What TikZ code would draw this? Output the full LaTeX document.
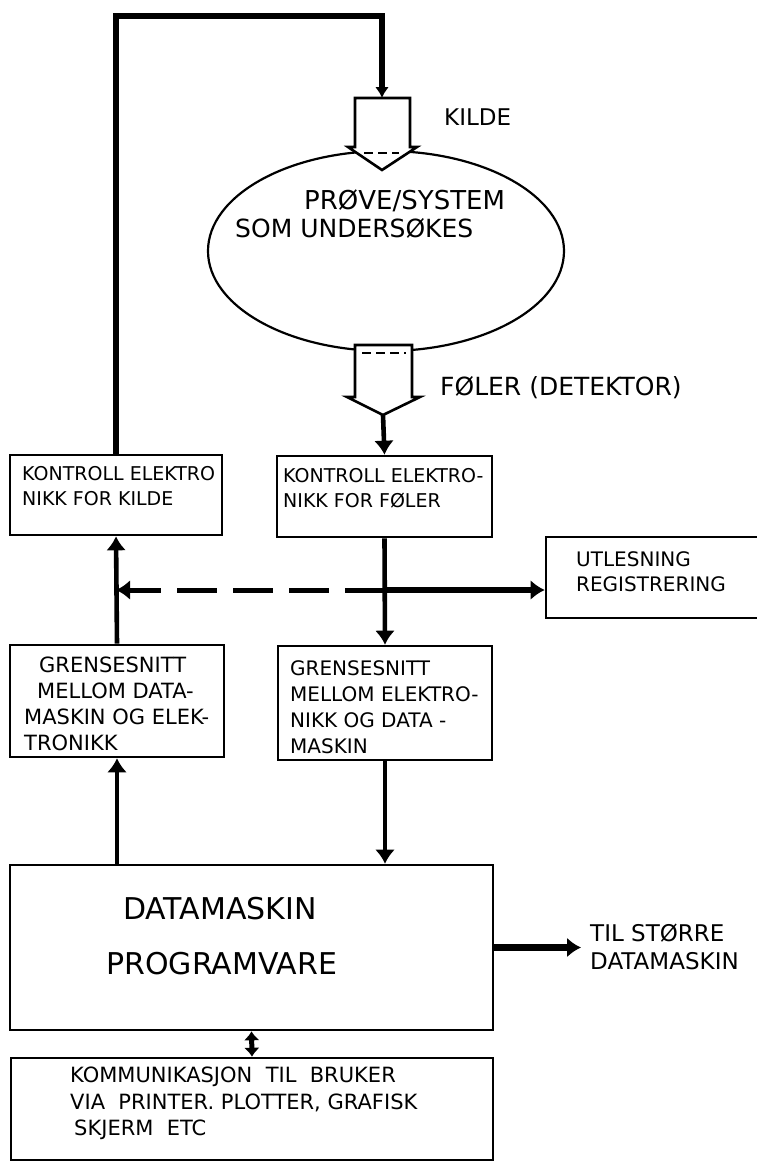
\documentclass[tikz,border=0pt]{standalone}
\usepackage{fontspec}
\setmainfont{DejaVu Sans}
\usetikzlibrary{arrows.meta,positioning,shapes.geometric}

\newcommand\handfont[2]{\fontsize{#1pt}{#2pt}\selectfont}

\begin{document}
\begin{tikzpicture}[
  x=1pt, y=-1pt,
  box/.style={draw,line width=2.6pt,inner sep=0pt},
  txt/.style={inner sep=0pt,anchor=north west,align=left},
  flow/.style={line width=4.6pt,line join=miter,-{Latex[length=14pt,width=20pt]}},
  sig/.style={line width=5.5pt,-{Latex[length=14pt,width=20pt]}},
  hidden/.style={line width=2.2pt,dash pattern=on 9pt off 5pt},
  blockarrow/.style={draw,line width=2.6pt,fill=white,line join=miter}
]
\useasboundingbox (0,0) rectangle (757,1163);

% sample and the two block arrows
\node[ellipse,draw,line width=2.2pt,minimum width=356pt,minimum height=200pt,inner sep=0pt] (sample) at (386,251) {};
\draw[blockarrow] (355,98) -- (410,98) -- (410,147) -- (417,147) -- (382,170) -- (348,147) -- (355,147) -- cycle;
\coordinate (kildetop) at (382,98);
\draw[hidden] (364,153) -- (399,153);
\draw[blockarrow] (355,345) -- (412,345) -- (412,397) -- (420,397) -- (383,415) -- (347,397) -- (355,397) -- cycle;
\coordinate (folertip) at (383,415);
\draw[hidden] (362,353) -- (406,353);

\node[txt,font=\handfont{26}{30}] (probe1) at (304,189.5) {PRØVE/SYSTEM};
\node[txt,font=\handfont{25}{30}] (probe2) at (235,218) {SOM UNDERSØKES};
\node[txt,font=\handfont{23}{28}] (kilde) at (444,108.6) {KILDE};
\node[txt,font=\handfont{25}{30}] (foler) at (440,376) {FØLER (DETEKTOR)};

% boxes
\node[box,minimum width=212pt,minimum height=80pt] (kk) at (116,495) {};
\node[box,minimum width=215pt,minimum height=81pt] (kf) at (384.5,496.5) {};
\node[box,minimum width=226pt,minimum height=81pt] (ut) at (659,577.5) {};
\node[box,minimum width=214pt,minimum height=112pt] (gl) at (117,701) {};
\node[box,minimum width=214pt,minimum height=114pt] (gr) at (385,703) {};
\node[box,minimum width=483pt,minimum height=165pt] (dm) at (251.5,947.5) {};
\node[box,minimum width=482pt,minimum height=102pt] (km) at (252,1109) {};

\node[txt,font=\handfont{19}{25}] (kktext) at (22,466) {KONTROLL ELEKTRO\\NIKK FOR KILDE};
\node[txt,font=\handfont{19}{25}] (kftext) at (283,468) {KONTROLL ELEKTRO-\\NIKK FOR FØLER};
\node[txt,font=\handfont{20}{25}] (uttext) at (576,551) {UTLESNING\\REGISTRERING};
\node[txt,font=\handfont{21}{26}] (gltext) at (24,657) {\hspace*{15pt}GRENSESNITT\\\hspace*{13pt}MELLOM DATA-\\MASKIN OG ELEK-\\TRONIKK};
\node[txt,font=\handfont{20}{26}] (grtext) at (290,660) {GRENSESNITT\\MELLOM ELEKTRO-\\NIKK OG DATA -\\MASKIN};
\node[txt,font=\handfont{30}{55}] (dmtext) at (106,897) {\hspace*{17pt}DATAMASKIN\\PROGRAMVARE};
\node[txt,font=\handfont{21}{26.5}] (kmtext) at (70,1067) {KOMMUNIKASJON~~TIL~~BRUKER\\VIA~~PRINTER.~PLOTTER,~GRAFISK\\\hspace*{4pt}SKJERM~~ETC};
\node[txt,font=\handfont{23}{28}] (bigger) at (590,923.6) {TIL STØRRE\\DATAMASKIN};

% connectors
\coordinate (loopcorner) at (382,16);
\draw[flow,line width=5.5pt,-{Latex[length=11pt,width=14pt]}] (kk.north) |- (loopcorner) -- (kildetop);
\draw[flow] (folertip) -- (kf.north);
\draw[flow] (kf.south) -- (gr.north);
\draw[flow] (gr.south) -- (gr.south |- dm.north);
\draw[flow] (dm.north -| gl.south) -- (gl.south);
\draw[flow] (gl.north) -- (kk.south);

\coordinate (tap) at (384.5,590);
\draw[sig] (tap) -- (ut.west |- tap);
\draw[sig,line width=5pt,dash pattern=on 40pt off 16pt] (tap) -- (kk.south |- tap);

\draw[sig,line width=7pt,shorten >=9pt] (dm.east) -- (dm.east -| bigger.west);
\draw[line width=5pt,{Latex[length=9pt,width=16pt]}-{Latex[length=9pt,width=16pt]}] (dm.south) -- (km.north);
\end{tikzpicture}
\end{document}
